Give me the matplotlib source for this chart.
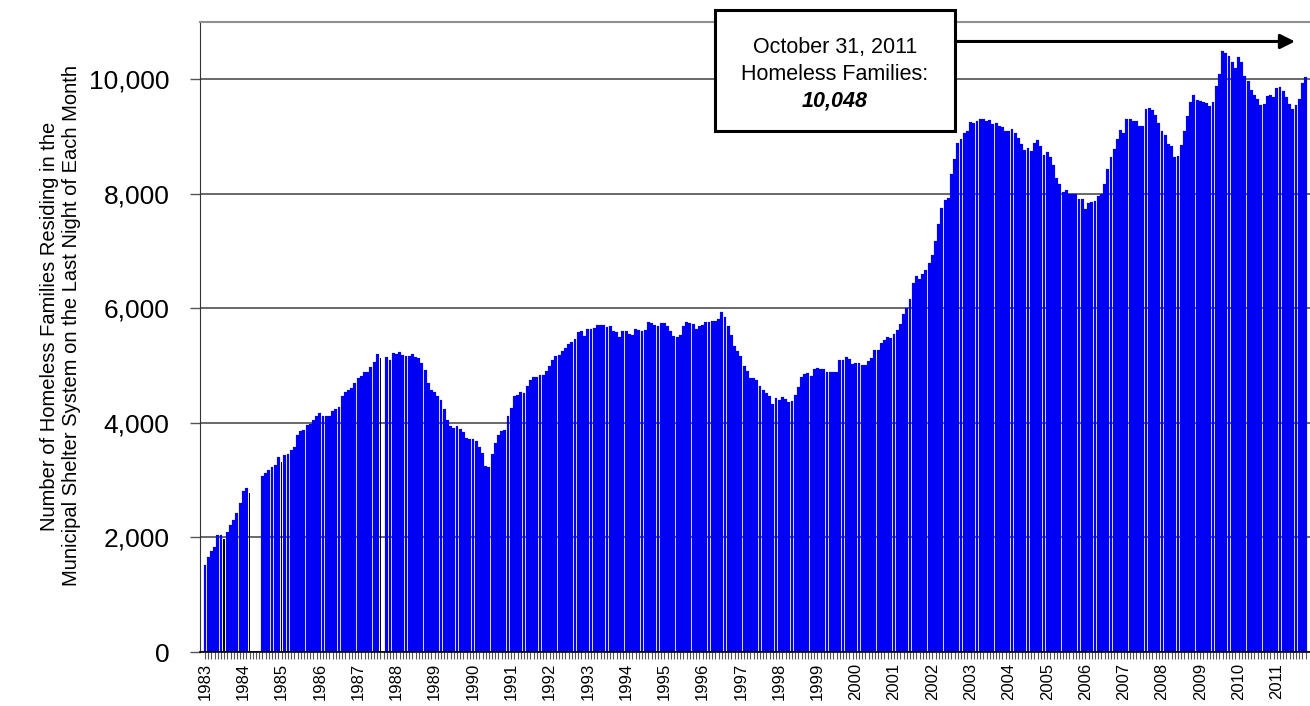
import numpy as np
import matplotlib.pyplot as plt
from matplotlib.patches import Rectangle

plt.rcParams['font.family'] = ['Liberation Sans', 'DejaVu Sans']

# homeless families in shelter, last night of each month, Jan 1983 - Oct 2011
# (nan = month not reported)
nan = np.nan
families = [
    1520, 1655, 1766, 1841, 2045, 2045, 1975, 2103, 2215, 2308, 2424, 2599,   # 1983
    2809, 2861, 2774, nan, nan, nan, 3065, 3124, 3182, 3234, 3269, 3403,      # 1984
    3322, 3438, 3462, 3520, 3572, 3782, 3852, 3881, 3968, 3986, 4056, 4114,   # 1985
    4173, 4114, 4126, 4126, 4202, 4243, 4278, 4476, 4534, 4569, 4610, 4697,   # 1986
    4785, 4825, 4889, 4889, 4970, 5058, 5210, 5134, nan, 5146, 5105, 5213,    # 1987
    5210, 5240, 5192, 5175, 5175, 5210, 5152, 5130, 5047, 4930, 4700, 4580,   # 1988
    4535, 4464, 4394, 4250, 4050, 3939, 3910, 3951, 3893, 3834, 3735, 3718,   # 1989
    3718, 3677, 3580, 3473, 3250, 3228, 3462, 3648, 3794, 3852, 3869, 4126,   # 1990
    4260, 4464, 4493, 4545, 4522, 4638, 4755, 4802, 4802, 4843, 4830, 4901,   # 1991
    5000, 5093, 5163, 5192, 5251, 5309, 5382, 5408, 5466, 5592, 5606, 5524,   # 1992
    5641, 5641, 5664, 5711, 5705, 5711, 5676, 5693, 5606, 5583, 5501, 5606,   # 1993
    5612, 5554, 5530, 5635, 5629, 5600, 5629, 5769, 5752, 5705, 5688, 5746,   # 1994
    5746, 5693, 5612, 5520, 5501, 5530, 5699, 5764, 5746, 5734, 5640, 5699,   # 1995
    5717, 5758, 5764, 5781, 5775, 5810, 5932, 5851, 5700, 5540, 5350, 5256,   # 1996
    5170, 5000, 4901, 4780, 4784, 4755, 4650, 4580, 4522, 4464, 4330, 4435,   # 1997
    4406, 4450, 4420, 4359, 4376, 4493, 4627, 4802, 4860, 4872, 4814, 4942,   # 1998
    4959, 4942, 4942, 4895, 4895, 4889, 4889, 5105, 5105, 5152, 5117, 5035,   # 1999
    5047, 5047, 5017, 5006, 5076, 5134, 5280, 5280, 5396, 5455, 5501, 5484,   # 2000
    5559, 5629, 5734, 5909, 6008, 6166, 6445, 6573, 6515, 6608, 6678, 6795,   # 2001
    6940, 7173, 7465, 7757, 7890, 7931, 8339, 8613, 8881, 8951, 9068, 9097,   # 2002
    9254, 9231, 9271, 9301, 9312, 9271, 9289, 9213, 9242, 9184, 9172, 9097,   # 2003
    9097, 9126, 9068, 8981, 8864, 8760, 8806, 8747, 8893, 8934, 8834, 8680,   # 2004
    8730, 8648, 8500, 8280, 8164, 8030, 8065, 7990, 7990, 7990, 7914, 7902,   # 2005
    7740, 7832, 7855, 7879, 7960, 8002, 8176, 8438, 8642, 8776, 8951, 9114,   # 2006
    9056, 9301, 9312, 9271, 9271, 9184, 9180, 9476, 9493, 9470, 9382, 9237,   # 2007
    9091, 9033, 8876, 8829, 8640, 8654, 8857, 9091, 9353, 9598, 9726, 9640,   # 2008
    9627, 9598, 9580, 9535, 9610, 9884, 10093, 10485, 10455, 10408, 10297, 10192,  # 2009
    10390, 10303, 10058, 9971, 9814, 9720, 9650, 9545, 9563, 9709, 9726, 9691,     # 2010
    9854, 9872, 9796, 9697, 9563, 9487, 9545, 9650, 9942, 10048,                   # 2011
]
year_labels = [str(y) for y in range(1983, 2012)]
yticks = [0, 2000, 4000, 6000, 8000, 10000]
latest_label = 'October 31, 2011'
latest_value = '10,048'

# bars that show up as thin black strokes in the original
dark_bars = [6, 14, 24, 55]

vals = np.array(families, dtype=float)
idx = np.arange(len(vals))
ok = ~np.isnan(vals)

fig = plt.figure(figsize=(13.1, 7.06), dpi=100)
ax = fig.add_axes([200 / 1310, 1 - 652 / 706, 1110 / 1310, 630 / 706])

blue = [i for i in idx[ok] if i not in dark_bars]
ax.bar(blue, vals[blue], width=0.9, color='#0000FF', edgecolor='#00008B',
       linewidth=0.12, zorder=2)
ax.bar(dark_bars, vals[dark_bars], width=0.45, color='black', zorder=3)

ax.set_xlim(-1.57, 346.4)
ax.set_ylim(0, 11000)

ax.set_yticks(yticks)
ax.set_yticklabels([f'{v:,}' for v in yticks], fontsize=19)
ax.yaxis.grid(True, color='#404040', linewidth=1.1, zorder=0)
ax.set_axisbelow(True)

ax.set_xticks(np.arange(0, len(vals), 12))
ax.set_xticklabels(year_labels, rotation=90, fontsize=12)
ax.set_xticks(idx, minor=True)
ax.tick_params(axis='x', which='both', length=5, width=0.8, color='#555555', pad=3)
ax.tick_params(axis='y', length=7, width=1, color='#555555', pad=15)

ax.spines['right'].set_visible(False)
ax.spines['top'].set_color('#909090')
ax.spines['top'].set_linewidth(1.5)
ax.spines['left'].set_color('#333333')
ax.spines['bottom'].set_color('black')
ax.spines['bottom'].set_linewidth(1.2)

fig.text(61 / 1310, 1 - 326 / 706,
         'Number of Homeless Families Residing in the\n'
         'Municipal Shelter System on the Last Night of Each Month',
         rotation=90, ha='center', va='center', multialignment='center',
         fontsize=14.5, linespacing=1.2)

# callout box and arrow toward the latest month
box = Rectangle((715 / 1310, 1 - 131 / 706), 240 / 1310, 121 / 706,
                transform=fig.transFigure, facecolor='white', edgecolor='black',
                linewidth=2.2, zorder=5)
fig.patches.append(box)
cx = 835 / 1310
fig.text(cx, 1 - 47 / 706, latest_label, ha='center', va='center', fontsize=15.5, zorder=6)
fig.text(cx, 1 - 74 / 706, 'Homeless Families:', ha='center', va='center', fontsize=15.5, zorder=6)
fig.text(cx, 1 - 101 / 706, latest_value, ha='center', va='center', fontsize=15.5,
         fontweight='bold', fontstyle='italic', zorder=6)

ax.annotate('', xy=(341.7, 10660), xytext=(235.1, 10660),
            arrowprops=dict(arrowstyle='-|>', color='black', lw=2.2, mutation_scale=22,
                            shrinkA=0, shrinkB=0),
            annotation_clip=False)

fig.savefig('out.png', dpi=100)
